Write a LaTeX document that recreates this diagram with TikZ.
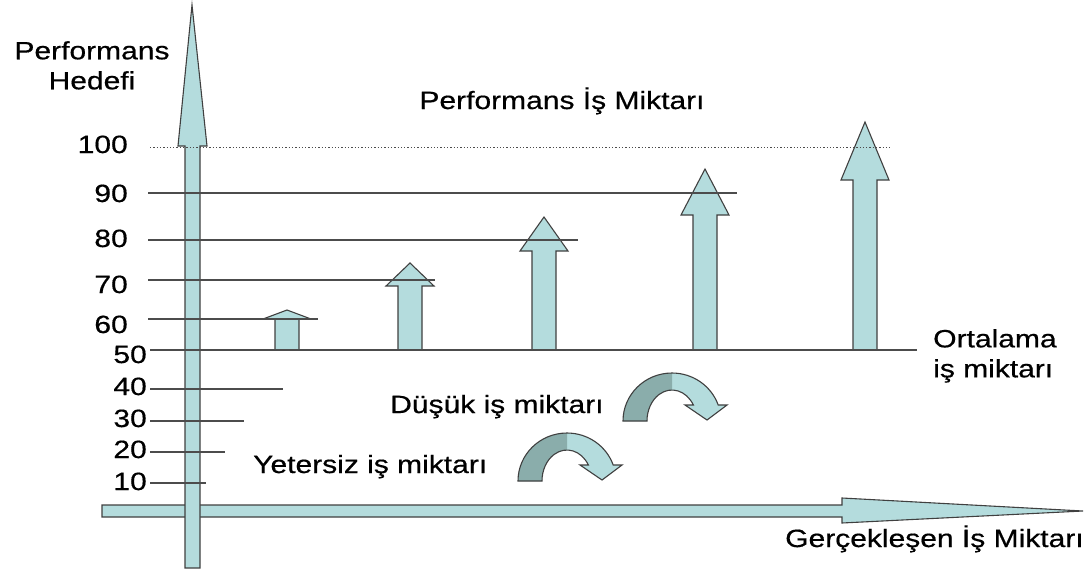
\documentclass[tikz,border=0pt]{standalone}
\usepackage{fontspec}
\setmainfont{Liberation Sans}
\definecolor{okrenk}{HTML}{B4DCDD}
\definecolor{koyu}{HTML}{8AADAB}
\begin{document}
\begin{tikzpicture}[x=1pt,y=-1pt,
        yazi/.style={font=\fontsize{25}{30}\selectfont\addfontfeature{FakeBold=0.5}, text=black, inner sep=0pt, xscale=1.2},
        sayi/.style={yazi, anchor=base east},
        ok/.style={fill=okrenk, draw=black!75, line width=1.1pt},
        seviye/.style={draw=black!70, line width=1.3pt}]

        \useasboundingbox (0,0) rectangle (1085,574);

        % eksenler
        \draw[ok] (102,505) -- (842,505) -- (842,498) -- (1083,511) -- (842,523) -- (842,517) -- (102,517) -- cycle;
        \draw[ok] (185,568) -- (185,146) -- (178,146) -- (192,5) -- (207,146) -- (200,146) -- (200,568) -- cycle;

        % performans oklari
        \foreach \cx/\hb/\tp in {287/319/310, 410/286/263, 544/251/217, 705/215/169, 865/180/122}
            \draw[ok] (\cx-12,350) -- (\cx-12,\hb) -- (\cx-24,\hb) -- (\cx,\tp) -- (\cx+24,\hb) -- (\cx+12,\hb) -- (\cx+12,350) -- cycle;

        % donus oklari
        \foreach \dx/\dy in {0/0, -105/60} {
            \begin{scope}[shift={(\dx,\dy)}]
                \fill[okrenk] (623,421) arc[start angle=180, end angle=340.5, x radius=49, y radius=48]
                    -- (727,405) -- (707,420) -- (685,405) -- (693.4,405)
                    arc[start angle=328.9, end angle=180, x radius=25, y radius=31] -- cycle;
                \fill[koyu] (623,421) arc[start angle=180, end angle=270, x radius=49, y radius=48]
                    -- (672,390) arc[start angle=270, end angle=180, x radius=25, y radius=31] -- cycle;
                \draw[draw=black!75, line width=1.1pt] (623,421) arc[start angle=180, end angle=340.5, x radius=49, y radius=48]
                    -- (727,405) -- (707,420) -- (685,405) -- (693.4,405)
                    arc[start angle=328.9, end angle=180, x radius=25, y radius=31] -- cycle;
            \end{scope}
        }

        % seviye cizgileri
        \draw[seviye, dotted, line width=1pt] (150,147) -- (890,147);
        \draw[seviye] (148,193) -- (737,193);
        \draw[seviye] (148,240) -- (578,240);
        \draw[seviye] (148,280) -- (435,280);
        \draw[seviye] (148,319) -- (318,319);
        \draw[seviye] (150,350) -- (917,350);
        \draw[seviye] (150,389) -- (283,389);
        \draw[seviye] (150,421) -- (244,421);
        \draw[seviye] (150,452) -- (225,452);
        \draw[seviye] (150,483) -- (206,483);

        \node[sayi] (n100) at (128,153) {100};
        \node[sayi] (n90) at (128,202) {90};
        \node[sayi] (n80) at (128,247) {80};
        \node[sayi] (n70) at (128,293) {70};
        \node[sayi] (n60) at (128,333) {60};
        \node[sayi] (n50) at (147,363) {50};
        \node[sayi] (n40) at (147,395) {40};
        \node[sayi] (n30) at (147,427) {30};
        \node[sayi] (n20) at (147,458) {20};
        \node[sayi] (n10) at (147,490) {10};

        \node[yazi, anchor=north, align=center] (hedef) at (92,41) {Performans\\Hedefi};
        \node[yazi, anchor=base] (baslik) at (562,109) {Performans İş Miktarı};
        \node[yazi, anchor=north west, align=left] (ortalama) at (933,329) {Ortalama\\iş miktarı};
        \node[yazi, anchor=base west] (dusuk) at (390,413) {Düşük iş miktarı};
        \node[yazi, anchor=base west] (yetersiz) at (253,473) {Yetersiz iş miktarı};
        \node[yazi, anchor=base west] (gercek) at (785,547) {Gerçekleşen İş Miktarı};
    \end{tikzpicture}
\end{document}
